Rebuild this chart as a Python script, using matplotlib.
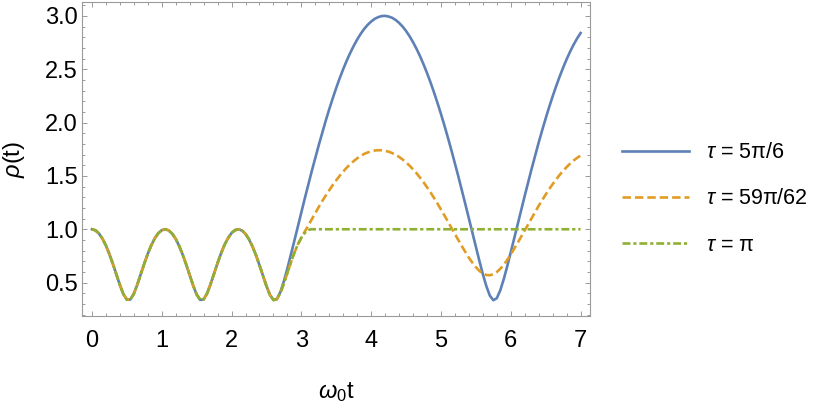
import numpy as np
import matplotlib
matplotlib.use("Agg")
import matplotlib.pyplot as plt
from matplotlib.ticker import MultipleLocator

plt.rcParams['font.family'] = ['Liberation Sans', 'DejaVu Sans']
plt.rcParams['mathtext.fontset'] = 'custom'
plt.rcParams['mathtext.rm'] = 'Liberation Sans'
plt.rcParams['mathtext.it'] = 'Liberation Sans:italic'

# part shared by all three curves, t = 0 ... 2.60
t_common = np.round(np.arange(0, 2.601, 0.05), 2)
rho_common = [
    1.000, 0.990, 0.960, 0.912, 0.847, 0.766, 0.674, 0.576, 0.477, 0.392,
    0.340, 0.342, 0.396, 0.483, 0.581, 0.680, 0.771, 0.851, 0.915, 0.963,
    0.991, 1.000, 0.989, 0.958, 0.909, 0.842, 0.761, 0.669, 0.570, 0.472,
    0.388, 0.338, 0.343, 0.400, 0.488, 0.587, 0.685, 0.776, 0.855, 0.918,
    0.965, 0.992, 1.000, 0.988, 0.956, 0.905, 0.838, 0.756, 0.663, 0.564,
    0.467, 0.384, 0.337,
]

# after the split, t = 2.65 ... 7.00
t_tail = np.round(np.arange(2.65, 7.001, 0.05), 2)
rho_blue_tail = [
    0.347, 0.413, 0.515, 0.634, 0.762, 0.894, 1.027, 1.160, 1.292, 1.421,
    1.548, 1.671, 1.791, 1.906, 2.020, 2.127, 2.229, 2.326, 2.417, 2.502,
    2.581, 2.653, 2.719, 2.779, 2.832, 2.878, 2.916, 2.947, 2.972, 2.988,
    2.998, 3.000, 2.994, 2.982, 2.962, 2.934, 2.900, 2.858, 2.809, 2.753,
    2.691, 2.622, 2.546, 2.464, 2.377, 2.283, 2.184, 2.080, 1.971, 1.857,
    1.739, 1.617, 1.492, 1.364, 1.233, 1.101, 0.967, 0.834, 0.704, 0.579,
    0.467, 0.378, 0.335, 0.354, 0.428, 0.534, 0.655, 0.784, 0.917, 1.050,
    1.182, 1.314, 1.443, 1.570, 1.692, 1.813, 1.928, 2.039, 2.145, 2.246,
    2.341, 2.431, 2.515, 2.593, 2.665, 2.730, 2.788, 2.839,
]
rho_orange_tail = [
    0.345, 0.405, 0.493, 0.592, 0.690, 0.781, 0.859, 0.922, 0.980, 1.039,
    1.097, 1.154, 1.210, 1.265, 1.317, 1.367, 1.415, 1.460, 1.502, 1.541,
    1.578, 1.610, 1.639, 1.665, 1.687, 1.706, 1.720, 1.731, 1.738, 1.741,
    1.740, 1.735, 1.727, 1.714, 1.698, 1.678, 1.654, 1.627, 1.596, 1.562,
    1.525, 1.484, 1.441, 1.394, 1.346, 1.294, 1.241, 1.186, 1.129, 1.072,
    1.013, 0.955, 0.897, 0.840, 0.786, 0.733, 0.687, 0.645, 0.610, 0.585,
    0.571, 0.569, 0.578, 0.599, 0.630, 0.668, 0.713, 0.764, 0.818, 0.874,
    0.932, 0.990, 1.049, 1.107, 1.164, 1.220, 1.274, 1.326, 1.376, 1.423,
    1.467, 1.509, 1.548, 1.583, 1.615, 1.644, 1.669, 1.691,
]
t_green_tail = [2.65, 2.70, 2.75, 2.80, 2.85, 2.90, 2.95, 3.00, 3.05, 3.10, 3.14, 7.00]
rho_green_tail = [0.345, 0.405, 0.493, 0.592, 0.690, 0.781, 0.859, 0.922, 0.967, 0.993, 1.000, 1.000]

labels = [r"$\tau$ = 5π/6", r"$\tau$ = 59π/62", r"$\tau$ = π"]
colors = ["#5E81B5", "#E19C24", "#8FB032"]

fig = plt.figure(figsize=(8.3, 4.03), dpi=100)
ax = fig.add_axes([82/830, 1 - 316/403, 508/830, 314/403])

lw = 1.9
ax.plot(np.concatenate([t_common, t_tail]), rho_common + rho_blue_tail,
        color=colors[0], lw=lw, label=labels[0])
ax.plot(np.concatenate([t_common, t_tail]), rho_common + rho_orange_tail,
        color=colors[1], lw=lw, dashes=(3.2, 1.5), label=labels[1])
ax.plot(np.concatenate([t_common, t_green_tail]), rho_common + rho_green_tail,
        color=colors[2], lw=lw, dashes=(3.0, 1.1, 1.2, 1.1), label=labels[2])

ax.set_xlim(-0.143, 7.135)
ax.set_ylim(0.187, 3.13)
ax.xaxis.set_major_locator(MultipleLocator(1))
ax.xaxis.set_minor_locator(MultipleLocator(0.2))
ax.yaxis.set_major_locator(MultipleLocator(0.5))
ax.yaxis.set_minor_locator(MultipleLocator(0.1))
ax.yaxis.set_major_formatter(lambda v, p: f"{v:.1f}")

frame = "#9a9a9a"
for s in ax.spines.values():
    s.set_color(frame)
    s.set_linewidth(0.8)
ax.tick_params(which='both', direction='in', top=True, right=True,
               color=frame, width=0.7, labelsize=17, labelcolor='black')
ax.tick_params(which='major', length=3.6)
ax.tick_params(which='minor', length=2.2)
ax.tick_params(axis='x', which='both', pad=10)
ax.tick_params(axis='y', which='both', pad=3)

ax.set_xlabel(r"$\omega_0$t", fontsize=17)
ax.set_ylabel(r"$\rho$(t)", fontsize=17)
ax.xaxis.set_label_coords(0.5, -0.205)
ax.yaxis.set_label_coords(-0.108, 0.5)

fig.legend(loc='center left', bbox_to_anchor=(622/830, 1 - 199/403),
           frameon=False, fontsize=15.5, handlelength=3.1, handletextpad=0.8,
           labelspacing=1.18, borderpad=0, borderaxespad=0)

fig.savefig("out.png", dpi=100)
